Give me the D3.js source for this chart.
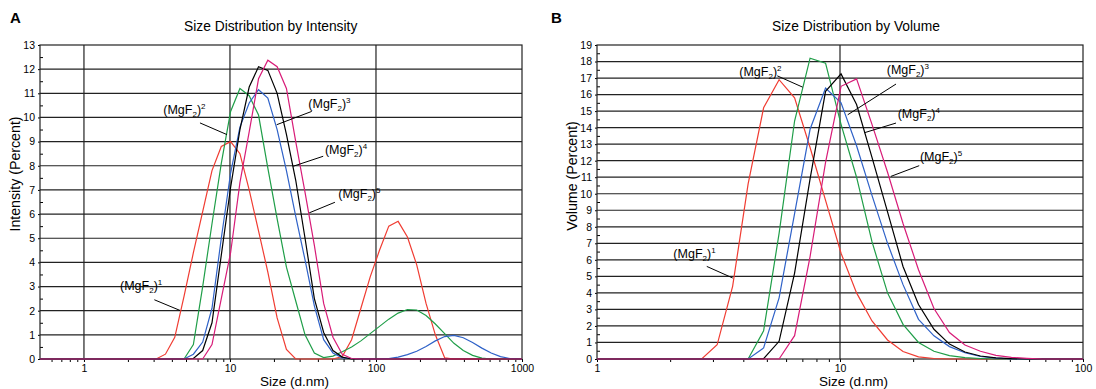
<!DOCTYPE html>
<html>
<head>
<meta charset="utf-8">
<script src="https://cdn.jsdelivr.net/npm/d3@7"></script>
<style>
  body { margin: 0; background: #fff; }
  text { font-family: Arial, "Liberation Sans", sans-serif; fill: #000; }
</style>
</head>
<body>
<svg id="chart" width="1096" height="389"></svg>
<script>
// =============================
// Data
// =============================
const sampleNames = ["1", "2", "3", "4", "5"];

// size bins (d.nm) used by the intensity panel
const intensitySizes = [3.122, 3.615, 4.187, 4.849, 5.615, 6.503, 7.531, 8.721, 10.10, 11.70,
  13.54, 15.69, 18.17, 21.04, 24.36, 28.21, 32.67, 37.84, 43.82, 50.75,
  58.77, 68.06, 78.82, 91.28, 105.7, 122.4, 141.8, 164.2, 190.1, 220.2,
  255.0, 295.3, 342.0, 396.1, 458.7, 531.2, 615.1, 712.4, 825.0, 955.4];

const intensity1 = [0, 0.2, 0.9, 2.6, 4.4, 6.1, 7.8, 8.8, 9.0, 8.5,
  7.0, 5.3, 3.6, 1.7, 0.4, 0, 0, 0, 0, 0,
  0.1, 0.8, 2.1, 3.4, 4.5, 5.5, 5.7, 5.05, 3.9, 2.3,
  1.0, 0.05, 0, 0, 0, 0, 0, 0, 0, 0];
const intensity2 = [0, 0, 0, 0, 0.6, 3.0, 5.6, 8.1, 10.25, 11.2,
  10.9, 10.1, 7.9, 5.8, 3.8, 2.4, 1.0, 0.25, 0.06, 0.12,
  0.3, 0.5, 0.75, 1.05, 1.35, 1.65, 1.9, 2.05, 2.03, 1.8,
  1.45, 1.05, 0.65, 0.35, 0.15, 0.04, 0, 0, 0, 0];
const intensity3 = [0, 0, 0, 0, 0.2, 0.7, 2.1, 5.0, 7.7, 9.6,
  10.6, 11.15, 10.8, 9.5, 7.8, 5.9, 4.1, 2.2, 0.8, 0.25,
  0.05, 0.02, 0, 0, 0, 0.02, 0.08, 0.18, 0.32, 0.52,
  0.75, 0.93, 0.98, 0.88, 0.68, 0.45, 0.25, 0.1, 0.02, 0];
const intensity4 = [0, 0, 0, 0, 0.02, 0.35, 1.5, 4.3, 7.1, 9.5,
  11.26, 12.1, 11.95, 11.0, 9.3, 7.4, 5.0, 2.5, 1.1, 0.35,
  0.08, 0, 0, 0, 0, 0, 0, 0, 0, 0,
  0, 0, 0, 0, 0, 0, 0, 0, 0, 0];
const intensity5 = [0, 0, 0, 0, 0, 0, 0.6, 2.5, 4.4, 7.3,
  9.4, 11.6, 12.37, 12.1, 11.2, 9.0, 6.9, 4.7, 2.3, 0.9,
  0.2, 0.02, 0, 0, 0, 0, 0, 0, 0, 0,
  0, 0, 0, 0, 0, 0, 0, 0, 0, 0];

// size bins (d.nm) used by the volume panel
const volumeSizes = [2.328, 2.696, 3.122, 3.615, 4.187, 4.849, 5.615, 6.503, 7.531, 8.721,
  10.10, 11.70, 13.54, 15.69, 18.17, 21.04, 24.36, 28.21, 32.67, 37.84,
  43.82, 50.75, 58.77, 68.06, 78.82, 91.28];

const volume1 = [0, 0, 0.86, 4.4, 10.6, 15.2, 16.9, 15.8, 12.8, 9.6,
  6.4, 4.0, 2.3, 1.15, 0.45, 0.13, 0.03, 0, 0, 0,
  0, 0, 0, 0, 0, 0];
const volume2 = [0, 0, 0, 0, 0, 1.7, 7.6, 14.4, 18.2, 17.9,
  14.2, 11.0, 7.1, 4.0, 2.1, 1.0, 0.47, 0.2, 0.08, 0.03,
  0, 0, 0, 0, 0, 0];
const volume3 = [0, 0, 0, 0, 0, 0.67, 3.7, 8.8, 13.9, 16.4,
  15.5, 12.9, 9.9, 7.0, 4.5, 2.4, 1.4, 0.75, 0.38, 0.15,
  0.05, 0, 0, 0, 0, 0];
const volume4 = [0, 0, 0, 0, 0, 0.02, 1.07, 5.2, 10.9, 16.2,
  17.25, 15.4, 12.2, 8.9, 5.6, 3.3, 1.8, 0.9, 0.42, 0.18,
  0.07, 0.02, 0, 0, 0, 0];
const volume5 = [0, 0, 0, 0, 0, 0, 0, 1.41, 6.2, 11.9,
  16.5, 16.95, 14.2, 11.3, 8.2, 5.4, 3.05, 1.6, 0.85, 0.47,
  0.22, 0.1, 0.04, 0, 0, 0];

// axis tick labels
const intensityXTicks = [1, 10, 100, 1000];
const volumeXTicks = [1, 10, 100];
const intensityYMax = 13;
const volumeYMax = 19;

// annotation targets in data units (size, value), one per sample
const intensityNoteTargets = [[4.55, 2.01], [9.54, 9.29], [20.9, 9.70], [27.1, 7.98], [34.9, 6.05]];
const volumeNoteTargets = [[3.62, 4.9], [7.02, 16.45], [10.76, 14.78], [12.59, 13.69], [16.2, 11.05]];

// =============================
// Styles / layout
// =============================
const colours = ["#f03c32", "#1f9e48", "#2f62c8", "#000000", "#d81c78"];
const gridColour = "#222";

// label offsets (px) from target: [textDx, textDy, lineDx, lineDy]
const intensityNoteOffsets = [[-60, -20.7, -25.7, -10.7], [-63.7, -21, -27, -11.7], [31.6, -17, 35, -13.3],
  [31.7, -12.2, 30, -10], [29, -14.8, 25.7, -10.6]];
const volumeNoteOffsets = [[-59.4, -20.3, -26, -11.6], [-63.4, -11.3, -25.4, -11.3], [39, -40.5, 48.3, -30.7],
  [33.4, -15, 31.7, -9.7], [29, -15.7, 28.3, -10.7]];

const svg = d3.select("#chart");

const drawPanel = (p) => {
  const g = svg.append("g");

  const x = d3.scaleLog().domain(p.xDomain).range(p.xRange);
  const y = d3.scaleLinear().domain([0, p.yMax]).range([359, 45]);
  const [x0, x1] = p.xRange;
  const [y0, y1] = y.range();

  // =============================
  // Grid
  // =============================
  g.append("g").selectAll("line")
    .data(d3.range(1, p.yMax))
    .join("line")
      .attr("x1", x0).attr("x2", x1)
      .attr("y1", d => y(d)).attr("y2", d => y(d))
      .attr("stroke", gridColour).attr("stroke-width", 1.2);

  g.append("g").selectAll("line")
    .data(p.xTicks.filter(d => d > p.xDomain[0] && d < p.xDomain[1]))
    .join("line")
      .attr("x1", d => x(d)).attr("x2", d => x(d))
      .attr("y1", y0).attr("y2", y1)
      .attr("stroke", gridColour).attr("stroke-width", 1.2);

  // =============================
  // Axes
  // =============================
  const minorX = [];
  for (let dec = 0.1; dec < p.xDomain[1]; dec *= 10) {
    for (let k = 2; k <= 9; k++) {
      const v = +(k * dec).toPrecision(3);
      if (v > p.xDomain[0] && v < p.xDomain[1]) minorX.push(v);
    }
  }
  g.append("g")
    .attr("transform", `translate(0,${y0})`)
    .call(d3.axisBottom(x).tickValues(minorX).tickFormat("").tickSize(3))
    .call(a => a.select(".domain").remove());

  g.append("g")
    .attr("transform", `translate(0,${y0})`)
    .call(d3.axisBottom(x).tickValues(p.xTicks).tickFormat(d3.format("d")).tickSize(3).tickPadding(2.5))
    .call(a => a.select(".domain").remove())
    .call(a => a.selectAll("text").attr("font-size", 10.5).attr("font-family", null));

  g.append("g")
    .attr("transform", `translate(${x0},0)`)
    .call(d3.axisLeft(y).tickValues(d3.range(0, p.yMax + 1)).tickSize(2).tickPadding(3))
    .call(a => a.select(".domain").remove())
    .call(a => a.selectAll("text").attr("font-size", 10.5).attr("font-family", null));

  g.append("g")
    .attr("transform", `translate(${x0},0)`)
    .call(d3.axisRight(y).tickValues(d3.range(0.5, p.yMax, 1)).tickFormat("").tickSize(3))
    .call(a => a.select(".domain").remove());

  // plot frame
  g.append("rect")
    .attr("x", x0).attr("y", y1)
    .attr("width", x1 - x0).attr("height", y0 - y1)
    .attr("fill", "none").attr("stroke", gridColour).attr("stroke-width", 1.2);

  // =============================
  // Curves
  // =============================
  const clipId = "clip-" + p.letter;
  g.append("clipPath").attr("id", clipId)
    .append("rect").attr("x", x0).attr("y", y1 - 2).attr("width", x1 - x0).attr("height", y0 - y1 + 4);

  const line = d3.line().x(d => x(d[0])).y(d => y(d[1]));
  g.append("g").attr("clip-path", `url(#${clipId})`)
    .selectAll("path")
    .data(p.series)
    .join("path")
      .attr("d", vals => line([[p.xDomain[0], 0], ...p.sizes.map((s, i) => [s, vals[i]]), [p.xDomain[1], 0]]))
      .attr("fill", "none")
      .attr("stroke", (d, i) => colours[i])
      .attr("stroke-width", 1.2)
      .attr("stroke-linejoin", "miter");

  // =============================
  // Labels
  // =============================
  p.noteTargets.forEach((t, i) => {
    const tx = x(t[0]), ty = y(t[1]);
    const [dx, dy, lx, ly] = p.noteOffsets[i];
    g.append("line")
      .attr("x1", tx + lx).attr("y1", ty + ly)
      .attr("x2", tx).attr("y2", ty)
      .attr("stroke", "#000").attr("stroke-width", 1);
    const txt = g.append("text")
      .attr("x", tx + dx).attr("y", ty + dy)
      .attr("font-size", 12.5);
    txt.append("tspan").text("(MgF");
    txt.append("tspan").text("2").attr("font-size", 8).attr("dy", 3);
    txt.append("tspan").text(")").attr("dy", -3);
    txt.append("tspan").text(sampleNames[i]).attr("font-size", 8).attr("dy", -5);
  });

  svg.append("text")
    .text(p.letter)
    .attr("x", p.letterX).attr("y", 23)
    .attr("font-size", 15).attr("font-weight", "bold");

  svg.append("text")
    .text(p.title)
    .attr("x", p.titleX).attr("y", 31)
    .attr("font-size", 13.8);

  svg.append("text")
    .text("Size (d.nm)")
    .attr("x", p.xTitleX).attr("y", 385.5)
    .attr("font-size", 13.5);

  svg.append("text")
    .text(p.yTitle)
    .attr("text-anchor", "middle")
    .attr("transform", `translate(${p.yTitleX},${p.yTitleY}) rotate(-90)`)
    .attr("dy", "0.35em")
    .attr("font-size", 14.2);
};

drawPanel({
  letter: "A", letterX: 10,
  title: "Size Distribution by Intensity", titleX: 184,
  yTitle: "Intensity (Percent)", yTitleX: 15, yTitleY: 174,
  xTitleX: 260,
  xDomain: [0.5, 1000], xRange: [40, 522],
  yMax: intensityYMax,
  xTicks: intensityXTicks,
  sizes: intensitySizes,
  series: [intensity1, intensity2, intensity3, intensity4, intensity5],
  noteTargets: intensityNoteTargets, noteOffsets: intensityNoteOffsets
});

drawPanel({
  letter: "B", letterX: 551,
  title: "Size Distribution by Volume", titleX: 772,
  yTitle: "Volume (Percent)", yTitleX: 572, yTitleY: 176,
  xTitleX: 819,
  xDomain: [1, 100], xRange: [597, 1083],
  yMax: volumeYMax,
  xTicks: volumeXTicks,
  sizes: volumeSizes,
  series: [volume1, volume2, volume3, volume4, volume5],
  noteTargets: volumeNoteTargets, noteOffsets: volumeNoteOffsets
});
</script>
</body>
</html>
